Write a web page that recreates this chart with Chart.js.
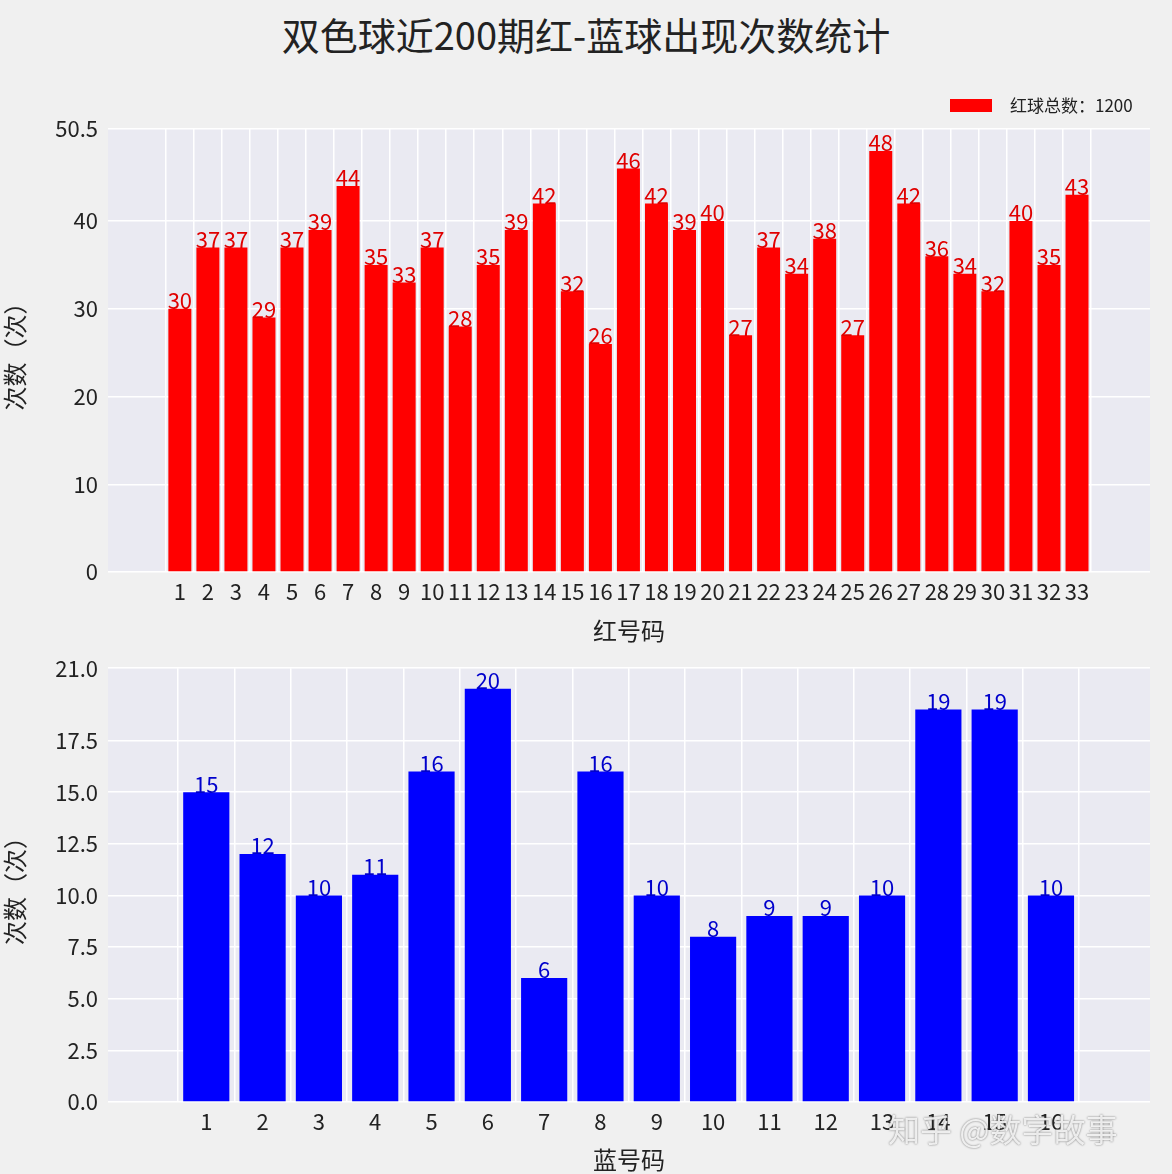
<!DOCTYPE html><html><head><meta charset="utf-8">
<script src="https://cdn.jsdelivr.net/npm/chart.js@4"></script>
<style>body{margin:0;background:#f0f0f0;width:1172px;height:1174px;position:relative;overflow:hidden;font-family:"Noto Sans CJK SC"}
#t{position:absolute;top:6px;width:100%;text-align:center;font-size:38px;color:#222}
canvas{position:absolute;left:0}
#wm{position:absolute;left:888px;top:1105px;font-size:32px;color:rgba(255,255,255,0.85);text-shadow:0 0 2px #666}
</style></head><body>
<div id="t">双色球近200期红-蓝球出现次数统计</div>
<div style="position:absolute;left:0;top:60px;width:1172px;height:585px"><canvas id="c1"></canvas></div>
<div style="position:absolute;left:0;top:645px;width:1172px;height:529px"><canvas id="c2"></canvas></div>
<div id="wm">知乎 @数字故事</div>
<script>
const redNums=[...Array(33)].map((_,i)=>i+1);
const redVals=[30,37,37,29,37,39,44,35,33,37,28,35,39,42,32,26,46,42,39,40,27,37,34,38,27,48,42,36,34,32,40,35,43];
const blueNums=[...Array(16)].map((_,i)=>i+1);
const blueVals=[15,12,10,11,16,20,6,16,10,8,9,9,10,19,19,10];
const F='"Noto Sans CJK SC"';
function mk(id,nums,vals,color,lblColor,xmin,xmax,ymax,step,fix,legend,xt,top,xh){
 const plug={id:'p'+id,
  beforeDraw(c){const a=c.chartArea,x=c.ctx;x.save();x.fillStyle='#eaeaf2';x.fillRect(a.left,a.top,a.right-a.left,a.bottom-a.top);x.restore();},
  afterDatasetsDraw(c){const x=c.ctx,m=c.getDatasetMeta(0);x.save();x.fillStyle=lblColor;x.font='22px '+F;x.textAlign='center';x.textBaseline='bottom';
   m.data.forEach((b,i)=>x.fillText(vals[i],b.x,b.y+3));
   x.fillStyle=color;x.fillRect(950,legend[0],42,13);x.fillStyle='#222';x.font='17px '+F;x.textAlign='left';x.textBaseline='middle';x.fillText(legend[1],1010,legend[0]+7);x.restore();}};
 new Chart(document.getElementById(id),{type:'bar',plugins:[plug],
  data:{datasets:[{data:nums.map((n,i)=>({x:n,y:vals[i]})),backgroundColor:color,barPercentage:0.82,categoryPercentage:1}]},
  options:{responsive:true,maintainAspectRatio:false,animation:false,
   layout:{padding:{top:top,right:22}},
   plugins:{legend:{display:false},tooltip:{enabled:false}},
   scales:{
    x:{type:'linear',min:xmin,max:xmax,afterBuildTicks:s=>{s.ticks=nums.map(v=>({value:v}));},afterFit:s=>{s.height=xh;},
     grid:{color:'#fff',lineWidth:1.5,drawTicks:false},border:{display:false},
     ticks:{autoSkip:false,maxRotation:0,color:'#222',font:{size:22,family:F},padding:6,callback:v=>v},
     title:{display:true,text:xt,color:'#222',font:{size:24,family:F},padding:0}},
    y:{min:0,max:ymax,afterFit:s=>{s.width=108;},grid:{color:'#fff',lineWidth:1.5,drawTicks:false},border:{display:false},
     ticks:{stepSize:step,color:'#222',font:{size:22,family:F},padding:10,callback:v=>fix?v.toFixed(1):v},
     title:{display:true,text:'次数（次）',color:'#222',font:{size:24,family:F},padding:0}}}}});
}
mk('c1',redNums,redVals,'#ff0000','#e00000',-1.0,35.04,50.5,10,false,[39,'红球总数：1200'],'红号码',69,73);
mk('c2',blueNums,blueVals,'#0000ff','#0000cc',-0.167,17.18,21,2.5,true,[-15,'蓝球总数：200'],'蓝号码',15,72);
</script></body></html>
